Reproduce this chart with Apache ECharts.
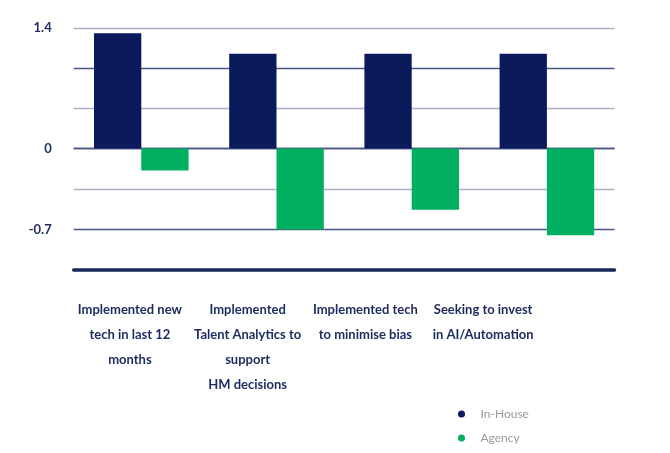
<!DOCTYPE html>
<html>
<head>
<meta charset="utf-8">
<script src="https://cdn.jsdelivr.net/npm/echarts@6/dist/echarts.min.js"></script>
<style>html,body{margin:0;padding:0;background:#fff}#c{width:670px;height:453px}</style>
</head>
<body>
<div id="c"></div>
<script>
var categories = [
  'Implemented new\ntech in last 12\nmonths',
  'Implemented\nTalent Analytics to\nsupport\nHM decisions',
  'Implemented tech\nto minimise bias',
  'Seeking to invest\nin AI/Automation'
];
var seriesNames = ['In-House', 'Agency'];
var inHouse = [1.34, 1.10, 1.10, 1.10];
var agency = [-0.19, -0.70, -0.53, -0.75];
var yTickLabels = ['1.4', '0', '-0.7'];

var NAVY = '#0b1a5b', GREEN = '#00b060', TEXT = '#1c2b5e';
var GRID_DARK = '#4a5586', GRID_LIGHT = '#aab1c8';
var FONT = 'Lato';

function matchLabel(v) {
  for (var i = 0; i < yTickLabels.length; i++) {
    if (Math.abs(v - parseFloat(yTickLabels[i])) < 1e-3) return yTickLabels[i];
  }
  return '';
}

function barSeries(name, data, color, idx) {
  return {
    name: name, type: 'bar', data: data,
    xAxisIndex: idx, yAxisIndex: idx,
    barWidth: 47.3, barGap: '0%',
    itemStyle: { color: color },
    clip: true, animation: false
  };
}

var chart = echarts.init(document.getElementById('c'), null, { renderer: 'canvas' });
chart.setOption({
  animation: false,
  grid: [
    { left: 73.7, width: 540.8, top: 28, height: 120.5 },
    { left: 73.7, width: 540.8, top: 148.5, height: 121.5 },
    { left: 71, width: 471, top: 270, height: 1 }
  ],
  xAxis: [
    { type: 'category', gridIndex: 0, data: categories, show: false },
    { type: 'category', gridIndex: 1, data: categories, position: 'bottom',
      axisLine: { show: true, onZero: false, lineStyle: { color: '#1b2a5e', width: 3.5 } },
      axisTick: { show: false }, axisLabel: { show: false } },
    { type: 'category', gridIndex: 2, data: categories,
      axisLine: { show: false }, axisTick: { show: false },
      axisLabel: { show: true, interval: 0, margin: 26, color: TEXT, fontFamily: FONT,
        fontWeight: 'bold', fontSize: 13, lineHeight: 25, verticalAlign: 'top' } }
  ],
  yAxis: [
    { type: 'value', gridIndex: 0, min: 0, max: 1.4, interval: 1.4 / 3,
      axisLine: { show: false }, axisTick: { show: false },
      splitLine: { show: true, lineStyle: { color: [GRID_DARK, GRID_LIGHT], width: 1.3 } },
      axisLabel: { margin: 22, color: TEXT, fontFamily: FONT, fontWeight: 'bold', fontSize: 13,
        formatter: function (v) { return matchLabel(v); } } },
    { type: 'value', gridIndex: 1, min: -1.05, max: 0, interval: 0.35,
      axisLine: { show: false }, axisTick: { show: false },
      splitLine: { show: true, lineStyle: { color: [GRID_LIGHT, GRID_DARK], width: 1.3 } },
      axisLabel: { margin: 22, color: TEXT, fontFamily: FONT, fontWeight: 'bold', fontSize: 13,
        formatter: function (v) { return (v < -0.01) ? matchLabel(v) : ''; } } },
    { type: 'value', gridIndex: 2, show: false }
  ],
  legend: {
    data: seriesNames, orient: 'vertical', left: 453, top: 403,
    icon: 'circle', itemWidth: 28, itemHeight: 7, itemGap: 12,
    textStyle: { color: '#9a9a9a', fontFamily: FONT, fontSize: 12 },
    selectedMode: false
  },
  series: [
    barSeries(seriesNames[0], inHouse, NAVY, 0),
    barSeries(seriesNames[1], agency, GREEN, 0),
    barSeries(seriesNames[0], inHouse, NAVY, 1),
    barSeries(seriesNames[1], agency, GREEN, 1)
  ]
});
</script>
</body>
</html>
